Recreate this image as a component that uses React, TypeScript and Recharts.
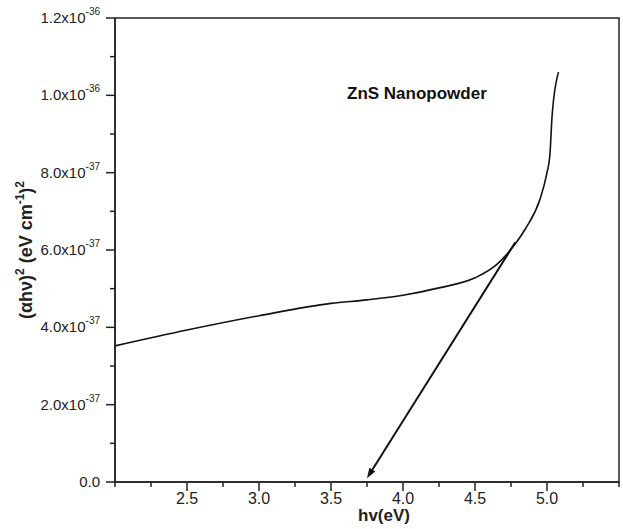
import { LineChart, Line, XAxis, YAxis, ReferenceArea, ReferenceLine } from "recharts";

const SCALE = 1e-37;

// photon energy (eV) and (alpha h nu)^2 in units of 1e-37
const photonEnergy = [2.0, 2.5, 3.0, 3.5, 3.75, 4.0, 4.25, 4.5, 4.65, 4.75, 4.85, 4.95, 5.0, 5.02, 5.035, 5.08];
const absorptionSq = [3.52, 3.93, 4.3, 4.62, 4.71, 4.83, 5.02, 5.28, 5.62, 6.02, 6.55, 7.3, 8.0, 8.45, 9.45, 10.6];

// extrapolated tangent (arrow points down to the band gap)
const tangentStart = { x: 4.78, y: 6.2 };
const tangentEnd = { x: 3.75, y: 0.1 };

const xTicks = [2.0, 2.25, 2.5, 2.75, 3.0, 3.25, 3.5, 3.75, 4.0, 4.25, 4.5, 4.75, 5.0, 5.25, 5.5];
const xTickLabels: Record<string, string> = { "2.5": "2.5", "3": "3.0", "3.5": "3.5", "4": "4.0", "4.5": "4.5", "5": "5.0" };

const yTicks = [0, 1, 2, 3, 4, 5, 6, 7, 8, 9, 10, 11, 12];
const yTickMantissa: Record<number, string> = { 0: "0.0", 2: "2.0", 4: "4.0", 6: "6.0", 8: "8.0", 10: "1.0", 12: "1.2" };
const yTickExponent: Record<number, string> = { 0: "", 2: "-37", 4: "-37", 6: "-37", 8: "-37", 10: "-36", 12: "-36" };

const data = photonEnergy.map((x, i) => ({ x, y: absorptionSq[i] * SCALE }));

const FONT = "'Liberation Sans', Arial, sans-serif";
const INK = "#222";

const XTick = (props: any) => {
  const { x, y, payload } = props;
  const label = xTickLabels[String(payload.value)];
  const len = label ? 9 : 5;
  return (
    <g>
      <line x1={x} y1={y} x2={x} y2={y + len} stroke={INK} strokeWidth={1.5} />
      {label && (
        <text x={x} y={y + 22} textAnchor="middle" fontSize={16} fill={INK} fontFamily={FONT}>
          {label}
        </text>
      )}
    </g>
  );
};

const YTick = (props: any) => {
  const { x, y, payload } = props;
  const k = Math.round(payload.value / SCALE);
  const mant = yTickMantissa[k];
  const exp = yTickExponent[k];
  const len = mant ? 9 : 5;
  return (
    <g>
      <line x1={x - len} y1={y} x2={x} y2={y} stroke={INK} strokeWidth={1.5} />
      {mant && (
        <text x={x - 15} y={y + 5} textAnchor="end" fontSize={15} fill={INK} fontFamily={FONT}>
          {exp ? mant + "x10" : mant}
          {exp && (
            <tspan fontSize={10} dy={-8}>
              {exp}
            </tspan>
          )}
        </text>
      )}
    </g>
  );
};

const ArrowLine = (props: any) => {
  const { x1, y1, x2, y2 } = props;
  const ang = Math.atan2(y2 - y1, x2 - x1);
  const head = 10;
  const half = 3.5;
  const bx = x2 - head * Math.cos(ang);
  const by = y2 - head * Math.sin(ang);
  const px = -Math.sin(ang) * half;
  const py = Math.cos(ang) * half;
  return (
    <g>
      <line x1={x1} y1={y1} x2={bx} y2={by} stroke="#111" strokeWidth={2} />
      <polygon points={`${x2},${y2} ${bx + px},${by + py} ${bx - px},${by - py}`} fill="#111" />
    </g>
  );
};

const App = () => {
  return (
    <div style={{ position: "absolute", left: 0, top: 0 }}>
      <LineChart
        width={623}
        height={529}
        data={data}
        margin={{ top: 18, right: 4, bottom: 0, left: 0 }}
        style={{ fontFamily: FONT }}
      >
        <ReferenceArea x1={2.0} x2={5.5} y1={0} y2={12 * SCALE} fill="none" stroke={INK} strokeWidth={1.5} />
        <XAxis
          dataKey="x"
          type="number"
          domain={[2.0, 5.5]}
          ticks={xTicks}
          interval={0}
          height={47}
          tickSize={0}
          tickMargin={0}
          tickLine={false}
          tick={<XTick />}
          axisLine={{ stroke: INK, strokeWidth: 1.5 }}
          label={{
            content: ({ viewBox }: any) => (
              <text
                x={viewBox.x + viewBox.width / 2 + 17}
                y={viewBox.y + 39}
                textAnchor="middle"
                fontSize={17}
                fontWeight="bold"
                fill={INK}
                fontFamily={FONT}
              >
                hv(eV)
              </text>
            ),
          }}
        />
        <YAxis
          type="number"
          domain={[0, 12 * SCALE]}
          ticks={yTicks.map((t) => t * SCALE)}
          interval={0}
          width={115}
          tickSize={0}
          tickMargin={0}
          tickLine={false}
          tick={<YTick />}
          axisLine={{ stroke: INK, strokeWidth: 1.5 }}
          label={{
            content: () => (
              <text
                x={32}
                y={250}
                transform="rotate(-90, 32, 250)"
                textAnchor="middle"
                fontSize={18}
                fontWeight="bold"
                fill={INK}
                fontFamily={FONT}
              >
                (αhν)
                <tspan fontSize={12} dy={-8}>2</tspan>
                <tspan dy={8}> (eV cm</tspan>
                <tspan fontSize={12} dy={-8}>-1</tspan>
                <tspan dy={8}>)</tspan>
                <tspan fontSize={12} dy={-8}>2</tspan>
              </text>
            ),
          }}
        />
        <Line
          dataKey="y"
          type="monotone"
          stroke="#111"
          strokeWidth={1.6}
          dot={false}
          isAnimationActive={false}
        />
        <ReferenceLine
          segment={[
            { x: tangentStart.x, y: tangentStart.y * SCALE },
            { x: tangentEnd.x, y: tangentEnd.y * SCALE },
          ]}
          shape={<ArrowLine />}
        />
        <text x={347} y={99} fontSize={17} fontWeight="bold" fill="#111" fontFamily={FONT}>
          ZnS Nanopowder
        </text>
      </LineChart>
    </div>
  );
};

export default App;
